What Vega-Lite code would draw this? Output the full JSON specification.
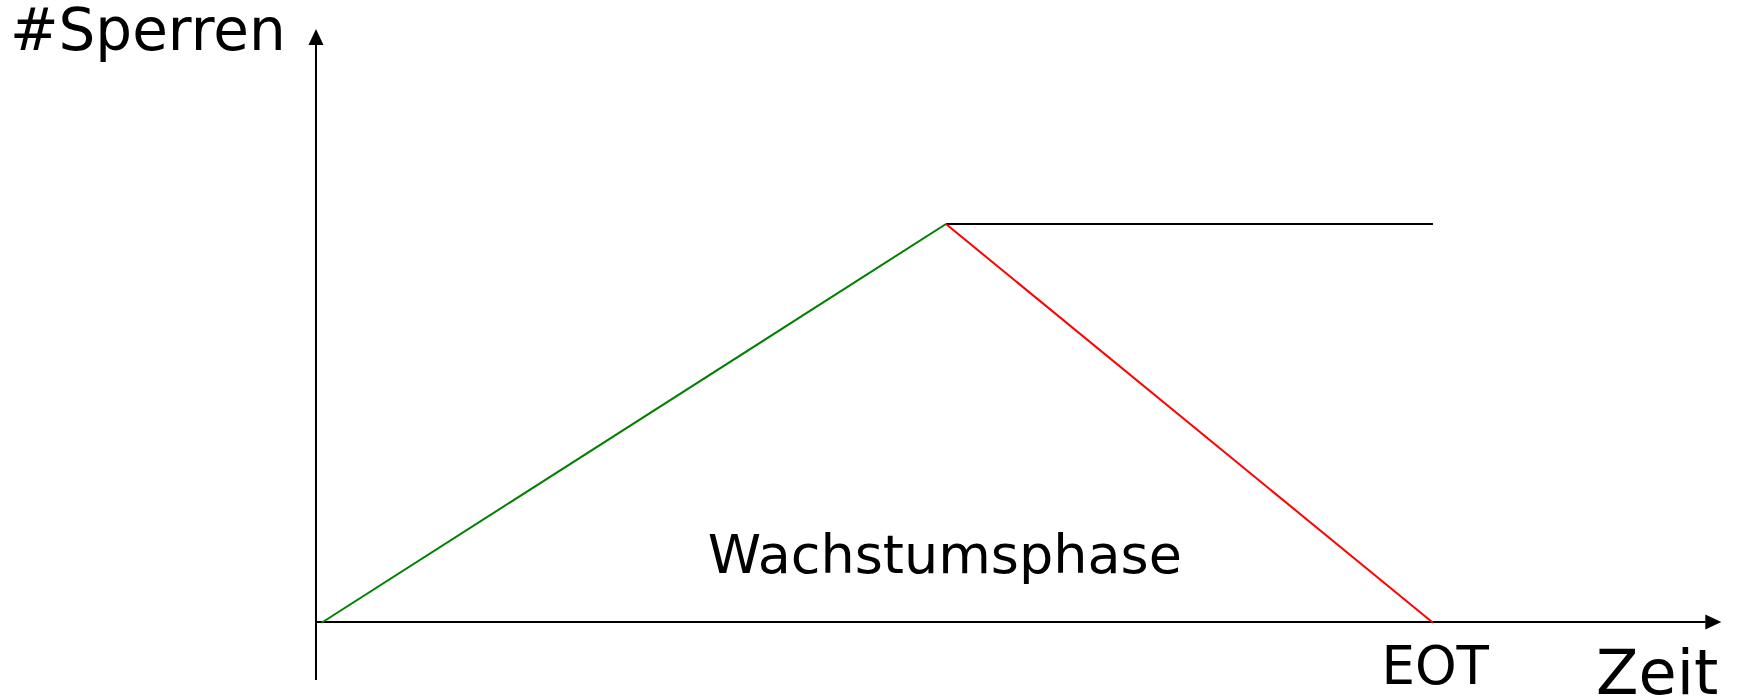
{
  "$schema": "https://vega.github.io/schema/vega-lite/v6.json",
  "width": 1737,
  "height": 698,
  "autosize": {"type": "none"},
  "padding": 0,
  "background": "white",
  "config": {"view": {"stroke": null}},
  "layer": [
    {
      "data": {"values": [
        {"part": "yaxis", "x": 0, "y": -1.46, "x2": 0, "y2": 14.55},
        {"part": "xaxis", "x": 0, "y": 0, "x2": 12.44, "y2": 0},
        {"part": "growth", "x": 0.05, "y": -0.02, "x2": 5.64, "y2": 10},
        {"part": "plateau", "x": 5.64, "y": 10, "x2": 10, "y2": 10},
        {"part": "shrink", "x": 5.64, "y": 10, "x2": 10, "y2": -0.02}
      ]},
      "mark": {"type": "rule", "strokeWidth": 2},
      "encoding": {
        "x": {"field": "x", "type": "quantitative", "scale": {"domain": [-2.829, 12.722], "nice": false, "zero": false}, "axis": null},
        "y": {"field": "y", "type": "quantitative", "scale": {"domain": [-1.91, 15.628], "nice": false, "zero": false}, "axis": null},
        "x2": {"field": "x2"},
        "y2": {"field": "y2"},
        "color": {"field": "part", "type": "nominal", "legend": null,
          "scale": {"domain": ["yaxis", "xaxis", "growth", "plateau", "shrink"], "range": ["#000000", "#000000", "#008000", "#000000", "#ff0000"]}}
      }
    },
    {
      "data": {"values": [{"axis": "y", "x": 0, "y": 14.7}]},
      "mark": {"type": "point", "filled": true, "color": "#000000", "opacity": 1, "size": 256, "shape": "M0,-1L-0.94,1L0.94,1Z"},
      "encoding": {
        "x": {"field": "x", "type": "quantitative", "axis": null},
        "y": {"field": "y", "type": "quantitative", "axis": null}
      }
    },
    {
      "data": {"values": [{"axis": "x", "x": 12.51, "y": 0}]},
      "mark": {"type": "point", "filled": true, "color": "#000000", "opacity": 1, "size": 256, "shape": "M1,0L-1,-0.94L-1,0.94Z"},
      "encoding": {
        "x": {"field": "x", "type": "quantitative", "axis": null},
        "y": {"field": "y", "type": "quantitative", "axis": null}
      }
    },
    {
      "data": {"values": [{"label": "#Sperren", "x": -2.74, "y": 14.36}]},
      "mark": {"type": "text", "font": "DejaVu Sans", "fontSize": 58, "align": "left", "baseline": "alphabetic", "color": "#000000"},
      "encoding": {
        "x": {"field": "x", "type": "quantitative", "axis": null},
        "y": {"field": "y", "type": "quantitative", "axis": null},
        "text": {"field": "label"}
      }
    },
    {
      "data": {"values": [{"label": "Wachstumsphase", "x": 5.63, "y": 1.23}]},
      "mark": {"type": "text", "font": "DejaVu Sans", "fontSize": 54, "align": "center", "baseline": "alphabetic", "color": "#000000"},
      "encoding": {
        "x": {"field": "x", "type": "quantitative", "axis": null},
        "y": {"field": "y", "type": "quantitative", "axis": null},
        "text": {"field": "label"}
      }
    },
    {
      "data": {"values": [{"label": "EOT", "x": 10.02, "y": -1.56}]},
      "mark": {"type": "text", "font": "DejaVu Sans", "fontSize": 53, "align": "center", "baseline": "alphabetic", "color": "#000000"},
      "encoding": {
        "x": {"field": "x", "type": "quantitative", "axis": null},
        "y": {"field": "y", "type": "quantitative", "axis": null},
        "text": {"field": "label"}
      }
    },
    {
      "data": {"values": [{"label": "Zeit", "x": 11.46, "y": -1.81}]},
      "mark": {"type": "text", "font": "DejaVu Sans", "fontSize": 62, "align": "left", "baseline": "alphabetic", "color": "#000000"},
      "encoding": {
        "x": {"field": "x", "type": "quantitative", "axis": null},
        "y": {"field": "y", "type": "quantitative", "axis": null},
        "text": {"field": "label"}
      }
    }
  ]
}
